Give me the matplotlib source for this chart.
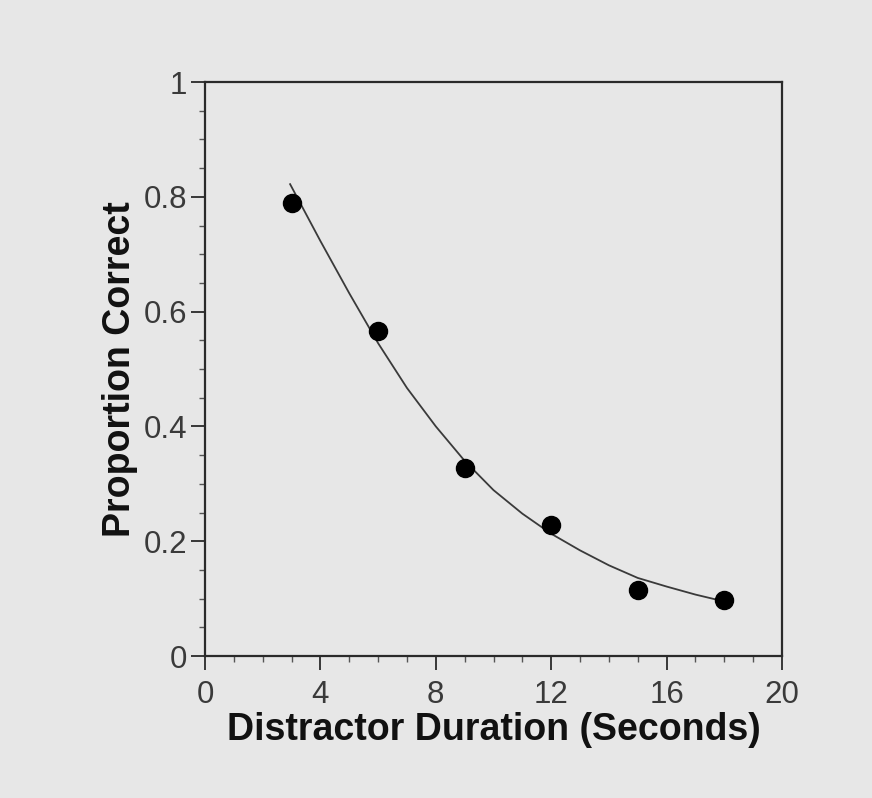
import matplotlib
matplotlib.use("Agg")
import matplotlib.pyplot as plt
from matplotlib.ticker import MultipleLocator, FixedLocator, FixedFormatter

# Observed data points
duration = [3, 6, 9, 12, 15, 18]
proportion = [0.79, 0.566, 0.328, 0.228, 0.115, 0.098]

# Fitted curve
curve_x = [2.95, 4, 5, 6, 7, 8, 9, 10, 11, 12, 13, 14, 15, 16, 17, 18]
curve_y = [0.822, 0.723, 0.632, 0.545, 0.467, 0.400, 0.340, 0.289, 0.248, 0.213, 0.184, 0.158, 0.136, 0.121, 0.107, 0.095]

xticks = [0, 4, 8, 12, 16, 20]
xticklabels = ["0", "4", "8", "12", "16", "20"]
yticks = [0, 0.2, 0.4, 0.6, 0.8, 1.0]
yticklabels = ["0", "0.2", "0.4", "0.6", "0.8", "1"]

bg = "#e7e7e7"
plt.rcParams["font.family"] = ["Liberation Sans", "DejaVu Sans"]

fig = plt.figure(figsize=(8.72, 7.98), dpi=100, facecolor=bg)
ax = fig.add_axes([205 / 872, 1 - 656 / 798, 577 / 872, 574 / 798])
ax.set_facecolor(bg)

ax.plot(curve_x, curve_y, color="#3a3a3a", lw=1.3, zorder=2)
ax.plot(duration, proportion, "o", color="black", markersize=13, zorder=3)

ax.set_xlim(0, 20)
ax.set_ylim(0, 1)
ax.xaxis.set_major_locator(FixedLocator(xticks))
ax.xaxis.set_major_formatter(FixedFormatter(xticklabels))
ax.yaxis.set_major_locator(FixedLocator(yticks))
ax.yaxis.set_major_formatter(FixedFormatter(yticklabels))
ax.xaxis.set_minor_locator(MultipleLocator(1))
ax.yaxis.set_minor_locator(MultipleLocator(0.05))

for s in ax.spines.values():
    s.set_linewidth(1.6)
    s.set_color("#2a2a2a")

ax.tick_params(which="major", direction="out", length=10, width=1.3,
               color="#2a2a2a", labelsize=22.5, labelcolor="#3a3a3a", pad=3)
ax.tick_params(axis="x", which="major", pad=7)
ax.tick_params(which="minor", direction="out", length=4, width=1.0, color="#555555")
ax.tick_params(top=False, right=False, which="both")

ax.set_xlabel("Distractor Duration (Seconds)", fontsize=27, fontweight="bold",
              color="#111111", labelpad=2)
ax.set_ylabel("Proportion Correct", fontsize=27, fontweight="bold",
              color="#111111", labelpad=4)

fig.savefig("out.png", dpi=100, facecolor=bg)
